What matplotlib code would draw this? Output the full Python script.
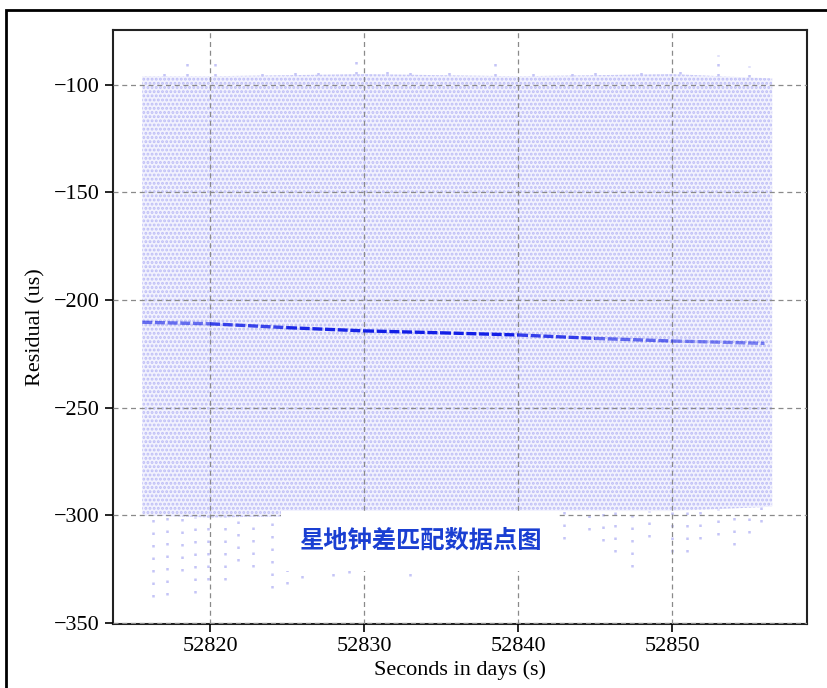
import matplotlib
matplotlib.use("Agg")
import matplotlib.pyplot as plt
from matplotlib.patches import Rectangle
from matplotlib.collections import LineCollection
import numpy as np

plt.rcParams['font.family'] = ['Liberation Serif', 'DejaVu Sans']
plt.rcParams['hatch.linewidth'] = 1.4

# Main body of the residual cloud (upper / lower edge along the time axis)
body_days = [52815.6, 52820.0, 52830.0, 52840.0, 52850.0, 52856.5]
body_high = [-96, -96, -95, -96, -95, -97]
body_low = [-300, -301, -300, -298, -298, -296]

# Sparse columns hanging below the main body
tail_days = [52816.3, 52817.2, 52818.2, 52819.0, 52819.9, 52821.0, 52821.8, 52822.8,
             52824.0, 52825.0, 52826.0, 52827.0, 52828.0, 52829.0, 52830.0, 52831.0,
             52832.0, 52833.0, 52834.0, 52835.0, 52836.0, 52837.0, 52838.0, 52839.0,
             52840.0, 52841.0, 52842.0, 52843.0, 52844.6, 52845.5, 52846.3, 52847.4,
             52848.5, 52850.0, 52851.0, 52851.8, 52853.0, 52854.0, 52855.0, 52855.8]
tail_low = [-338, -337, -326, -336, -330, -330, -321, -324,
            -334, -332, -329, -318, -328, -327, -318, -324,
            -316, -328, -318, -322, -316, -314, -318, -312,
            -314, -310, -312, -311, -307, -312, -317, -324,
            -310, -317, -317, -311, -309, -314, -308, -303]

# Sparse points rising above the main body
top_days = [52817.0, 52818.5, 52820.3, 52823.4, 52825.5, 52827.0, 52829.5, 52831.5,
            52833.0, 52835.5, 52838.5, 52841.0, 52843.5, 52845.0, 52848.0, 52850.5,
            52853.0, 52855.0]
top_high = [-92, -89, -90, -91, -93, -92, -89, -93, -92, -91, -90, -94, -92, -93,
            -91, -92, -86, -91]

# Dense clock-offset trend running through the cloud
trend_days = [52815.6, 52820.0, 52825.0, 52830.0, 52835.0, 52840.0, 52845.0, 52850.0, 52856.0]
trend_vals = [-210.3, -211.0, -212.8, -214.3, -215.2, -216.2, -217.8, -219.0, -220.1]
trend_weight = [0.55, 0.65, 0.95, 0.95, 1.0, 0.95, 0.7, 0.55, 0.5]

x_ticks = [52820, 52830, 52840, 52850]
y_ticks = [-350, -300, -250, -200, -150, -100]

fig = plt.figure(figsize=(8.27, 6.88), dpi=100)
ax = fig.add_axes([113 / 827, 1 - 624 / 688, (807 - 113) / 827, (624 - 30) / 688])

dot_color = '#bdbdf6'
ax.fill_between(body_days, body_low, body_high, facecolor='#f2f2fe',
                edgecolor=dot_color, hatch='....', linewidth=0, zorder=2)

body_low_at_tail = np.interp(tail_days, body_days, body_low)
ax.vlines(tail_days, tail_low, body_low_at_tail, colors='#c4c4f7',
          linestyles=(0, (1.0, 4.0)), linewidth=1.8, zorder=2)
body_high_at_top = np.interp(top_days, body_days, body_high)
ax.vlines(top_days, body_high_at_top, top_high, colors='#c4c4f7',
          linestyles=(0, (1.0, 3.0)), linewidth=1.8, zorder=2)

pts = np.column_stack([trend_days, trend_vals])
segs = np.stack([pts[:-1], pts[1:]], axis=1)
seg_alpha = [(a + b) / 2 for a, b in zip(trend_weight[:-1], trend_weight[1:])]
rgba = [(0.05, 0.1, 0.9, a) for a in seg_alpha]
trend = LineCollection(segs, colors=rgba, linewidths=2.4,
                       linestyles=(0, (3, 0.8)), zorder=3)
ax.add_collection(trend)

ax.set_xlim(52813.7, 52858.76)
ax.set_ylim(-350.5, -74.5)
ax.set_xticks(x_ticks)
ax.set_yticks(y_ticks)
ax.tick_params(axis='both', direction='out', length=6, width=1.2,
               labelsize=16, colors='black')
ax.set_axisbelow(False)
ax.grid(True, linestyle=(0, (4, 3)), color='#8a8a8a', linewidth=0.9)
for s in ax.spines.values():
    s.set_linewidth(1.5)
    s.set_color('#222222')

ax.set_xlabel('Seconds in days (s)', fontsize=16, labelpad=3)
ax.set_ylabel('Residual (us)', fontsize=16, labelpad=6)

ax.text(420, 688 - 541, '星地钟差匹配数据点图', transform=None,
        ha='center', va='center', fontsize=17.5, fontweight='bold',
        family=['Noto Sans CJK SC', 'DejaVu Sans'], color='#1a3fd2', zorder=5,
        bbox=dict(boxstyle='square,pad=0.75', facecolor='white', edgecolor='none'))

# Outer frame around the whole figure
fig.patches.append(Rectangle((6 / 827, -0.1), 1.2, 1 - 10 / 688 + 0.1,
                             transform=fig.transFigure, fill=False,
                             edgecolor='black', linewidth=2.0))

fig.savefig('out.png', dpi=100)
